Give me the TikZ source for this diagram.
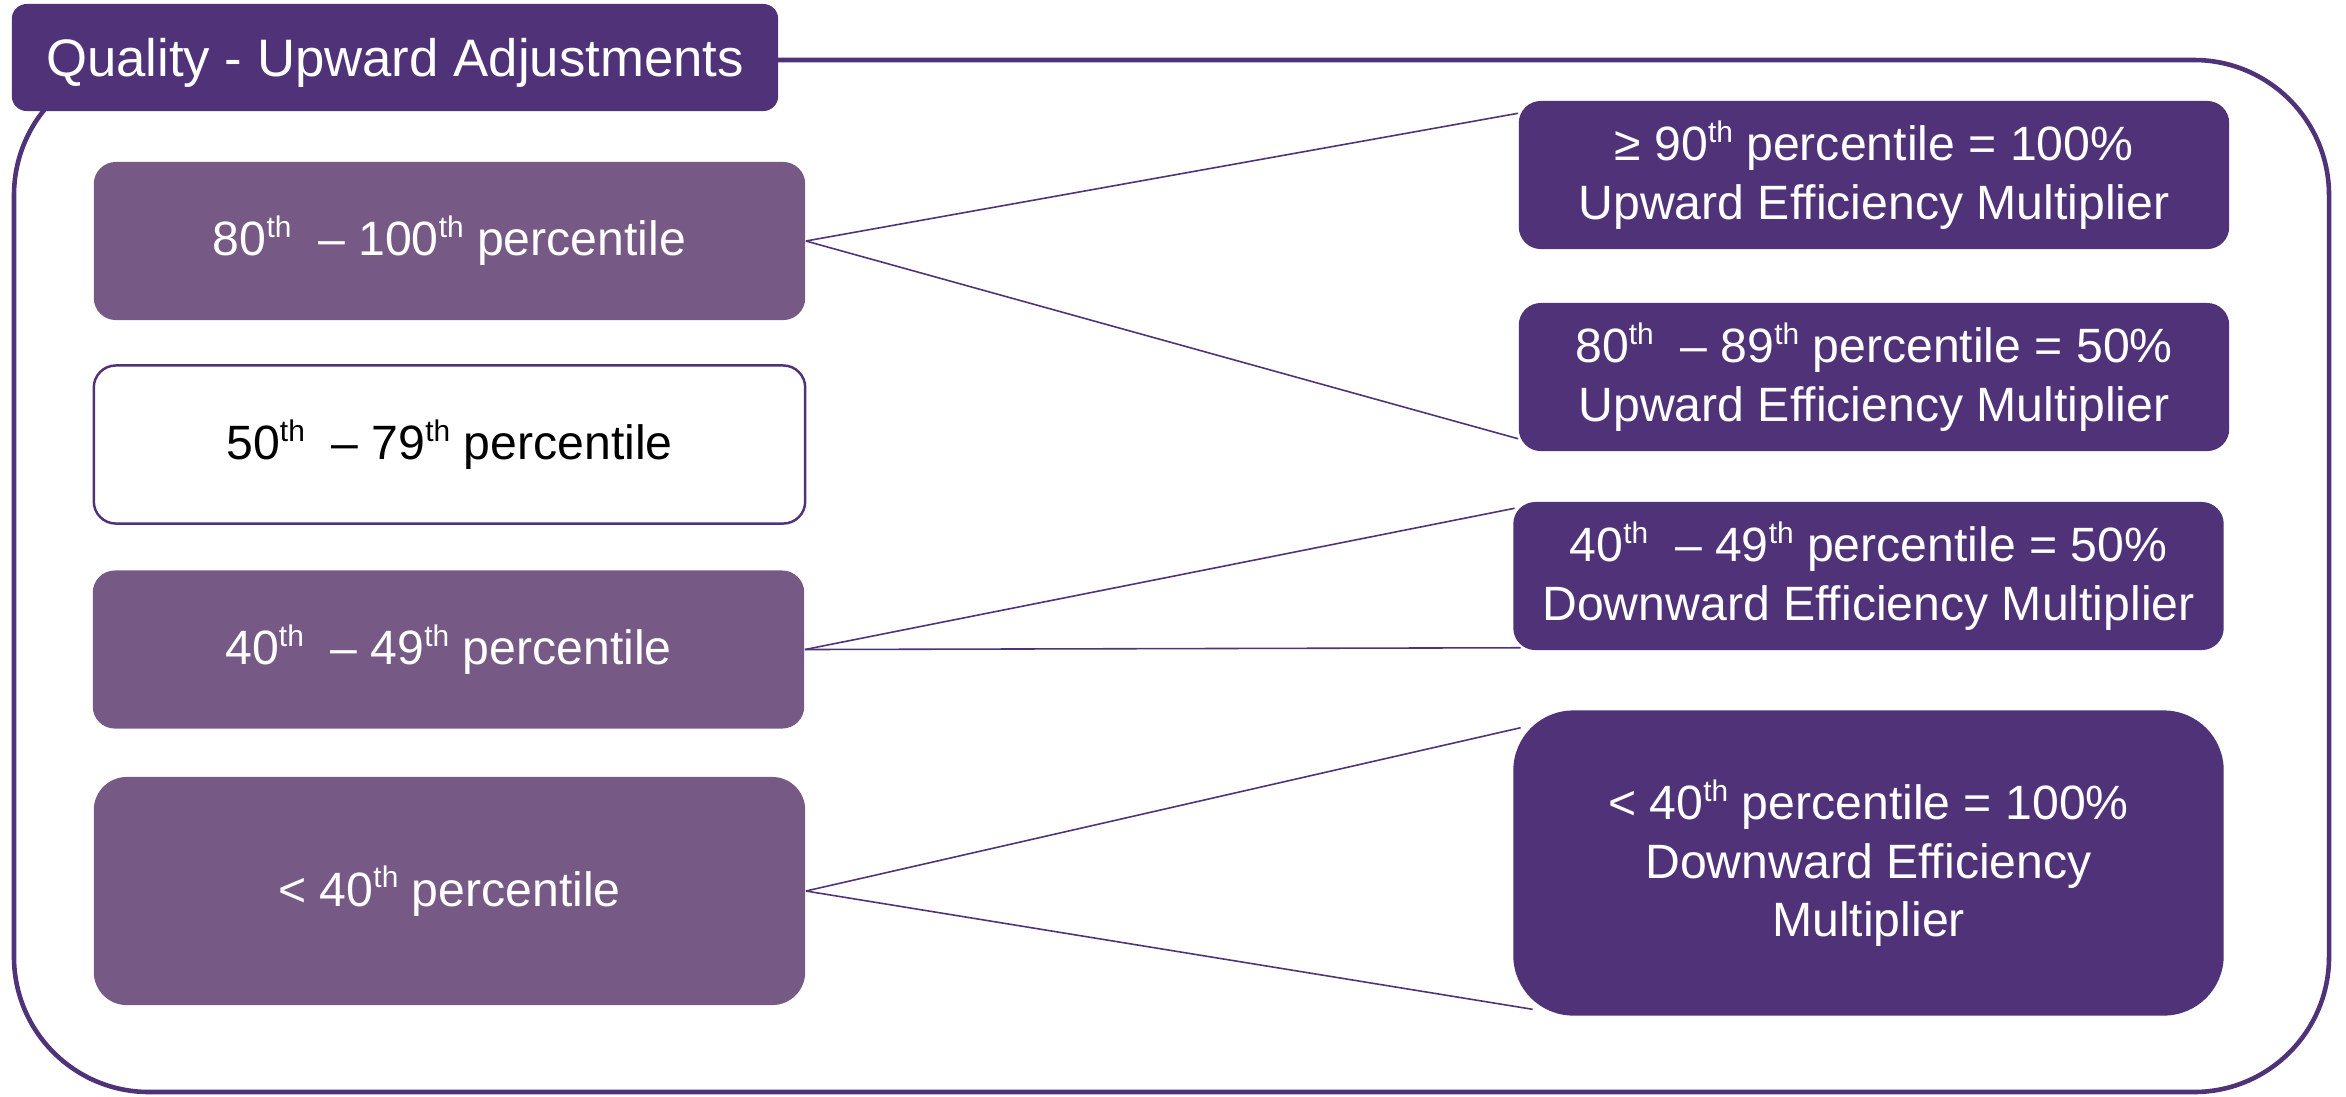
\documentclass[tikz,border=0pt]{standalone}
\usepackage{fontspec}
\setmainfont{Liberation Sans}
\usetikzlibrary{calc}

\definecolor{qdark}{RGB}{79,50,119}
\definecolor{qlight}{RGB}{118,90,133}
\newcommand{\thsup}{\raisebox{0.38em}{\scalebox{0.62}{th}}}

\tikzset{
	boxfont/.style={font=\fontsize{13.7pt}{16.5pt}\selectfont, align=center},
	leftbox/.style={boxfont, fill=qlight, text=white, rounded corners=0.22cm, minimum width=7.11cm, minimum height=1.58cm},
	openbox/.style={boxfont, draw=qdark, line width=0.7pt, fill=white, text=black, rounded corners=0.22cm, minimum width=7.11cm, minimum height=1.58cm},
	rightbox/.style={boxfont, fill=qdark, text=white, rounded corners=0.22cm, minimum width=7.10cm, minimum height=1.48cm},
	link/.style={qdark, line width=0.45pt}
}

\begin{document}
\begin{tikzpicture}[x=0.01cm, y=-0.01cm]
		\useasboundingbox (0, 0) rectangle (2346, 1096);
		% frame and heading
		\draw[qdark, line width=1.3pt, rounded corners=1.35cm] (14, 60) rectangle (2329, 1092);
		\node[fill=qdark, text=white, rounded corners=0.15cm, minimum width=7.66cm, minimum height=1.07cm, text depth=0pt, font=\fontsize{15pt}{18pt}\selectfont] (title) at (395, 57.5) {Quality - Upward Adjustments};
		% left column
		\node[leftbox] (l1) at (449.5, 241) {80\thsup\ \ – 100\thsup\ percentile};
		\node[openbox] (l2) at (449.5, 444.5) {50\thsup\ \ – 79\thsup\ percentile};
		\node[leftbox] (l3) at (448.5, 649.5) {40\thsup\ \ – 49\thsup\ percentile};
		\node[leftbox, minimum height=2.28cm, rounded corners=0.33cm] (l4) at (449.5, 891) {< 40\thsup\ percentile};
		% right column
		\node[rightbox] (r1) at (1874, 175) {≥ 90\thsup\ percentile = 100\%\\Upward Efficiency Multiplier};
		\node[rightbox] (r2) at (1874, 377) {80\thsup\ \ – 89\thsup\ percentile = 50\%\\Upward Efficiency Multiplier};
		\node[rightbox] (r3) at (1868.5, 576) {40\thsup\ \ – 49\thsup\ percentile = 50\%\\Downward Efficiency Multiplier};
		\node[rightbox, minimum height=3.05cm, rounded corners=0.6cm] (r4) at (1868.5, 863) {< 40\thsup\ percentile = 100\%\\Downward Efficiency\\Multiplier};
		% link ends
		\coordinate (r1a) at ($(r1.north west)+(0, 13)$);
		\coordinate (r1b) at ($(r2.south west)+(0, -13)$);
		\coordinate (r3a) at ($(r3.north west)+(2, 7)$);
		\coordinate (r3b) at ($(r3.south west)+(8, -3)$);
		\coordinate (r4a) at ($(r4.north west)+(8, 18)$);
		\coordinate (r4b) at ($(r4.south west)+(20, -7)$);
		% links
		\draw[link] (l1.east) -- (r1a);
		\draw[link] (l1.east) -- (r1b);
		\draw[link] (l3.east) -- (r3a);
		\draw[link] (l3.east) -- (r3b);
		\draw[link] (l4.east) -- (r4a);
		\draw[link] (l4.east) -- (r4b);
\end{tikzpicture}
\end{document}
